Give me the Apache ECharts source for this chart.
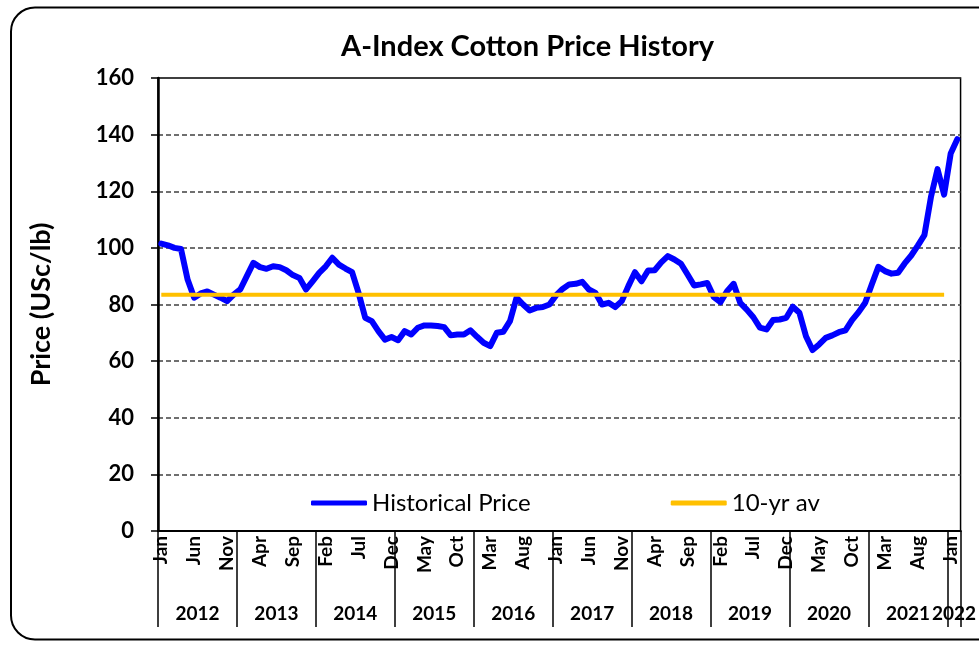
<!DOCTYPE html>
<html>
<head>
<meta charset="utf-8">
<script src="https://cdn.jsdelivr.net/npm/echarts@6/dist/echarts.min.js"></script>
<style>
html,body{margin:0;padding:0;background:#fff;}
#chart{width:979px;height:645px;}
</style>
</head>
<body>
<div id="chart"></div>
<script>
// monthly A-Index, Jan 2012 .. Feb 2022 (USc/lb)
var years = ['2012','2013','2014','2015','2016','2017','2018','2019','2020','2021','2022'];
var months = ['Jan','Feb','Mar','Apr','May','Jun','Jul','Aug','Sep','Oct','Nov','Dec'];
var priceHistory = [
  101.5, 100.9, 100.0, 99.6, 88.8, 82.4, 83.9, 84.6, 83.5, 82.4, 81.2, 83.5,
  85.3, 90.0, 94.7, 93.2, 92.6, 93.5, 93.2, 92.1, 90.4, 89.4, 85.3, 88.2,
  91.2, 93.5, 96.5, 94.1, 92.7, 91.4, 84.0, 75.3, 74.1, 70.6, 67.6, 68.5,
  67.4, 70.6, 69.4, 71.8, 72.6, 72.6, 72.4, 72.0, 69.1, 69.4, 69.4, 70.9,
  68.6, 66.5, 65.3, 70.0, 70.4, 74.1, 82.4, 80.0, 77.9, 78.8, 79.1, 80.0,
  83.2, 85.5, 87.1, 87.3, 88.0, 85.3, 84.1, 80.0, 80.6, 79.1, 81.2, 86.5,
  91.4, 88.2, 92.0, 92.1, 94.9, 97.1, 95.9, 94.4, 90.6, 86.7, 87.1, 87.6,
  82.6, 80.8, 84.7, 87.3, 80.6, 78.2, 75.5, 71.8, 71.2, 74.5, 74.7, 75.3,
  79.2, 77.1, 68.8, 63.9, 65.9, 68.2, 69.1, 70.2, 70.9, 74.5, 77.3, 80.6,
  87.1, 93.3, 91.8, 90.9, 91.2, 94.5, 97.3, 100.8, 104.5, 118.0, 127.8, 118.8,
  133.3, 138.4
];
var tenYrAvg = 83.4;      // Jan 2012 .. Dec 2021
var avgMonths = 120;
var yTicks = [0, 20, 40, 60, 80, 100, 120, 140, 160];

var categories = [];
for (var i = 0; i < priceHistory.length; i++) {
  categories.push(months[i % 12] + '-' + years[Math.floor(i / 12)]);
}
var avgLine = [];
for (var j = 0; j < avgMonths; j++) avgLine.push(tenYrAvg);

var FONT = 'Lato, "Open Sans", sans-serif';
var chart = echarts.init(document.getElementById('chart'));

var option = {
  animation: false,
  textStyle: { fontFamily: FONT },
  title: {
    text: 'A-Index Cotton Price History',
    left: 336,
    top: 27,
    textStyle: { fontSize: 29, fontWeight: 'bold', color: '#000', fontFamily: FONT }
  },
  graphic: [{
    type: 'rect',
    silent: true,
    z: -10,
    shape: { x: 11, y: 7.5, width: 1010, height: 632, r: 24 },
    style: { fill: 'none', stroke: '#000', lineWidth: 2 }
  }],
  legend: {
    left: 306,
    top: 486,
    icon: 'roundRect',
    itemWidth: 56,
    itemHeight: 5,
    itemGap: 140,
    textStyle: { fontSize: 24, color: '#000', fontFamily: FONT },
    data: ['Historical Price', '10-yr av']
  },
  grid: {
    left: 158, right: 15, top: 78, bottom: 114,
    show: true, borderColor: '#000', borderWidth: 1.5,
    containLabel: false
  },
  xAxis: [{
    type: 'category',
    data: categories,
    boundaryGap: true,
    axisLine: { lineStyle: { color: '#000', width: 2 } },
    axisTick: { show: false },
    axisLabel: {
      interval: 4,
      rotate: 90,
      margin: 5,
      color: '#000',
      fontSize: 19,
      fontWeight: 'bold',
      fontFamily: FONT,
      formatter: function (v) { return v.split('-')[0]; }
    }
  }, {
    type: 'category',
    data: categories,
    boundaryGap: true,
    position: 'bottom',
    axisLine: { show: true, lineStyle: { color: '#000', width: 2 } },
    axisTick: {
      show: true,
      interval: function (idx) { return idx % 12 === 0; },
      length: 96,
      lineStyle: { color: '#000', width: 1.5 }
    },
    axisLabel: {
      interval: function (idx) { return idx % 12 === 6 || idx === categories.length - 1; },
      margin: 73,
      color: '#000',
      fontSize: 19,
      fontWeight: 'bold',
      fontFamily: FONT,
      padding: [0, 6.6, 0, 0],
      formatter: function (v) { return v.split('-')[1]; }
    },
    splitLine: { show: false }
  }],
  yAxis: {
    type: 'value',
    min: yTicks[0],
    max: yTicks[yTicks.length - 1],
    interval: yTicks[1] - yTicks[0],
    name: 'Price (USc/lb)',
    nameLocation: 'middle',
    nameGap: 103,
    nameTextStyle: { fontSize: 27, fontWeight: 'bold', color: '#000', fontFamily: FONT },
    axisLine: { show: true, lineStyle: { color: '#000', width: 2.5 } },
    axisTick: { show: true, length: 7, lineStyle: { color: '#000', width: 1.5 } },
    axisLabel: { margin: 24, color: '#000', fontSize: 22, fontWeight: 'bold', fontFamily: FONT },
    splitLine: { lineStyle: { color: '#404040', width: 1.5, type: [5, 3] } }
  },
  series: [{
    name: 'Historical Price',
    type: 'line',
    data: priceHistory,
    showSymbol: false,
    symbol: 'none',
    z: 3,
    lineStyle: { color: '#0000FF', width: 6, join: 'round', cap: 'round' },
    itemStyle: { color: '#0000FF' }
  }, {
    name: '10-yr av',
    type: 'line',
    data: avgLine,
    showSymbol: false,
    symbol: 'none',
    z: 4,
    lineStyle: { color: '#FFC000', width: 4 },
    itemStyle: { color: '#FFC000' }
  }]
};
chart.setOption(option);
</script>
</body>
</html>
